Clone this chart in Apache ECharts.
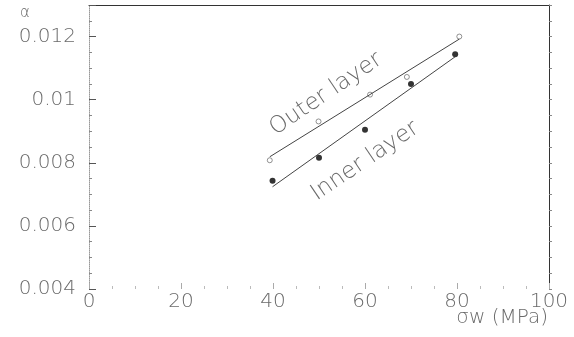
<!DOCTYPE html>
<html><head><meta charset="utf-8">
<script src="https://cdn.jsdelivr.net/npm/echarts@6/dist/echarts.min.js"></script>
<style>html,body{margin:0;padding:0;background:#fff}#c{width:574px;height:337px}</style>
</head><body><div id="c"></div>
<script>
var xTickLabels = ['0','20','40','60','80','100'];
var yTickLabels = ['0.004','0.006','0.008','0.01','0.012'];
var outerX = [39.3, 49.9, 61.1, 69.1, 80.5];
var outerY = [0.00808, 0.00931, 0.01016, 0.01072, 0.0120];
var innerX = [39.9, 50.0, 60.0, 70.0, 79.6];
var innerY = [0.00743, 0.00816, 0.00905, 0.0105, 0.01144];
var outerFitX = [39.3, 80.5];
var outerFitY = [0.00819, 0.01192];
var innerFitX = [39.9, 79.6];
var innerFitY = [0.00724, 0.01136];
var xTitle = 'σw (MPa)';
var yTitle = 'α';
var outerLabel = 'Outer layer';
var innerLabel = 'Inner layer';

function pairs(xs, ys){ return xs.map(function(x,i){return [x, ys[i]];}); }
var FONT = '"DejaVu Sans", sans-serif';
var TXT = '#6a6a6a';
function yFmt(v){
  for (var i=0;i<yTickLabels.length;i++){ if (Math.abs(parseFloat(yTickLabels[i])-v) < 1e-7) return yTickLabels[i]; }
  return '';
}
function xFmt(v){
  for (var i=0;i<xTickLabels.length;i++){ if (Math.abs(parseFloat(xTickLabels[i])-v) < 1e-7) return xTickLabels[i]; }
  return '';
}
var chart = echarts.init(document.getElementById('c'), null, {renderer:'canvas'});
chart.setOption({
  animation:false,
  backgroundColor:'#fff',
  grid:{left:89, right:25, top:5, bottom:48},
  xAxis:[{
    type:'value', min:0, max:100, interval:20, position:'bottom',
    axisLine:{show:false},
    axisTick:{show:true, inside:true, length:6, lineStyle:{color:'#aaa', width:1}},
    minorTick:{show:true, splitNumber:4, length:3, lineStyle:{color:'#bbb', width:1}},
    splitLine:{show:false},
    axisLabel:{fontFamily:FONT, fontWeight:200, fontSize:20, color:TXT, margin:3, formatter:xFmt}
  },{
    type:'value', min:0, max:100, position:'top',
    axisLine:{show:true, onZero:false, lineStyle:{color:'#333', width:1}},
    axisTick:{show:false}, axisLabel:{show:false}, splitLine:{show:false}
  }],
  yAxis:[{
    type:'value', min:0.004, max:0.013, interval:0.002, position:'left',
    axisLine:{show:true, onZero:false, lineStyle:{color:'#999', width:1, type:'dotted'}},
    axisTick:{show:true, inside:true, length:7, lineStyle:{color:'#555', width:1}},
    minorTick:{show:true, splitNumber:4, length:3, lineStyle:{color:'#888', width:1}},
    splitLine:{show:false},
    axisLabel:{fontFamily:FONT, fontWeight:200, fontSize:20, color:TXT, margin:13, showMaxLabel:false, formatter:yFmt}
  },{
    type:'value', min:0.004, max:0.013, interval:0.0005, position:'right',
    axisLine:{show:true, onZero:false, lineStyle:{color:'#333', width:1}},
    axisTick:{show:true, inside:false, length:3, lineStyle:{color:'#888', width:1}},
    minorTick:{show:false},
    axisLabel:{show:false}, splitLine:{show:false}
  }],
  series:[
    {type:'line', data:pairs(outerFitX, outerFitY), showSymbol:false, lineStyle:{color:'#444', width:1}, silent:true},
    {type:'line', data:pairs(innerFitX, innerFitY), showSymbol:false, lineStyle:{color:'#444', width:1}, silent:true},
    {type:'scatter', data:pairs(outerX, outerY), symbol:'circle', symbolSize:5, itemStyle:{color:'#fff', borderColor:'#555', borderWidth:0.8}},
    {type:'scatter', data:pairs(innerX, innerY), symbol:'circle', symbolSize:6, itemStyle:{color:'#000'}}
  ],
  graphic:[
    {type:'text', x:548, y:318, style:{text:xTitle, fontFamily:FONT, fontWeight:200, fontSize:20, fill:TXT, align:'right', verticalAlign:'middle'}},
    {type:'text', x:25, y:13, style:{text:yTitle, fontFamily:FONT, fontWeight:200, fontSize:15, fill:TXT, align:'center', verticalAlign:'middle'}},
    {type:'text', x:326, y:94, rotation:34*Math.PI/180, style:{text:outerLabel, fontFamily:FONT, fontWeight:200, fontSize:23, fill:TXT, align:'center', verticalAlign:'middle'}},
    {type:'text', x:365, y:161, rotation:34*Math.PI/180, style:{text:innerLabel, fontFamily:FONT, fontWeight:200, fontSize:23, fill:TXT, align:'center', verticalAlign:'middle'}}
  ]
});
</script></body></html>
